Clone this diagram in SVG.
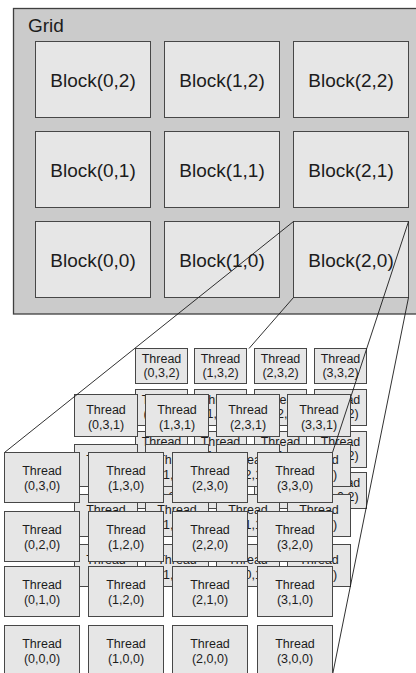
<svg xmlns="http://www.w3.org/2000/svg" width="416" height="673" viewBox="0 0 416 673">
<style>
.bg{fill:#ffffff}
.grid{fill:#cbcbcb;stroke:#3f3f3f;stroke-width:1.3}
.blk{fill:#e6e6e6;stroke:#474747;stroke-width:1}
.th{fill:#e6e6e6;stroke:#474747;stroke-width:1}
.t{font-family:"Liberation Sans",Arial,sans-serif;fill:#1c1c1c}
.bt{font-size:19px;text-anchor:middle}
.tt{font-size:12.5px;text-anchor:middle}
.ln{fill:none;stroke:#1a1a1a;stroke-width:0.9}
</style>
<rect class="bg" x="0" y="0" width="416" height="673"/>
<g id="grid">
<rect class="grid" x="13.5" y="8.5" width="420" height="305.5"/>
<text class="t" x="28" y="32" font-size="19">Grid</text>
</g>
<g id="block-0-2"><rect class="blk" x="35.5" y="41.5" width="115" height="76"/><text class="t bt" x="93" y="87">Block(0,2)</text></g>
<g id="block-1-2"><rect class="blk" x="164.5" y="41.5" width="115" height="76"/><text class="t bt" x="222" y="87">Block(1,2)</text></g>
<g id="block-2-2"><rect class="blk" x="293.5" y="41.5" width="115" height="76"/><text class="t bt" x="351" y="87">Block(2,2)</text></g>
<g id="block-0-1"><rect class="blk" x="35.5" y="131.5" width="115" height="76"/><text class="t bt" x="93" y="177">Block(0,1)</text></g>
<g id="block-1-1"><rect class="blk" x="164.5" y="131.5" width="115" height="76"/><text class="t bt" x="222" y="177">Block(1,1)</text></g>
<g id="block-2-1"><rect class="blk" x="293.5" y="131.5" width="115" height="76"/><text class="t bt" x="351" y="177">Block(2,1)</text></g>
<g id="block-0-0"><rect class="blk" x="35.5" y="221.5" width="115" height="76"/><text class="t bt" x="93" y="267">Block(0,0)</text></g>
<g id="block-1-0"><rect class="blk" x="164.5" y="221.5" width="115" height="76"/><text class="t bt" x="222" y="267">Block(1,0)</text></g>
<g id="block-2-0"><rect class="blk" x="293.5" y="221.5" width="115" height="76"/><text class="t bt" x="351" y="267">Block(2,0)</text></g>

<!-- back layer z=2 -->
<g id="thread-0-3-2"><rect class="th" x="135.5" y="348.5" width="52" height="35"/><text class="t tt" x="161.5" y="363">Thread</text><text class="t tt" x="161.5" y="377">(0,3,2)</text></g>
<g id="thread-1-3-2"><rect class="th" x="194.5" y="348.5" width="52" height="35"/><text class="t tt" x="220.5" y="363">Thread</text><text class="t tt" x="220.5" y="377">(1,3,2)</text></g>
<g id="thread-2-3-2"><rect class="th" x="254.5" y="348.5" width="52" height="35"/><text class="t tt" x="280.5" y="363">Thread</text><text class="t tt" x="280.5" y="377">(2,3,2)</text></g>
<g id="thread-3-3-2"><rect class="th" x="314.5" y="348.5" width="52" height="35"/><text class="t tt" x="340.5" y="363">Thread</text><text class="t tt" x="340.5" y="377">(3,3,2)</text></g>
<g id="thread-0-2-2"><rect class="th" x="135.5" y="389.5" width="52" height="36"/><text class="t tt" x="161.5" y="404">Thread</text><text class="t tt" x="161.5" y="418">(0,2,2)</text></g>
<g id="thread-1-2-2"><rect class="th" x="194.5" y="389.5" width="52" height="36"/><text class="t tt" x="220.5" y="404">Thread</text><text class="t tt" x="220.5" y="418">(1,2,2)</text></g>
<g id="thread-2-2-2"><rect class="th" x="254.5" y="389.5" width="52" height="36"/><text class="t tt" x="280.5" y="404">Thread</text><text class="t tt" x="280.5" y="418">(2,2,2)</text></g>
<g id="thread-3-2-2"><rect class="th" x="314.5" y="389.5" width="52" height="36"/><text class="t tt" x="340.5" y="404">Thread</text><text class="t tt" x="340.5" y="418">(3,2,2)</text></g>
<g id="thread-0-1-2"><rect class="th" x="135.5" y="431.5" width="52" height="36"/><text class="t tt" x="161.5" y="446">Thread</text><text class="t tt" x="161.5" y="460">(0,1,2)</text></g>
<g id="thread-1-1-2"><rect class="th" x="194.5" y="431.5" width="52" height="36"/><text class="t tt" x="220.5" y="446">Thread</text><text class="t tt" x="220.5" y="460">(1,1,2)</text></g>
<g id="thread-2-1-2"><rect class="th" x="254.5" y="431.5" width="52" height="36"/><text class="t tt" x="280.5" y="446">Thread</text><text class="t tt" x="280.5" y="460">(2,1,2)</text></g>
<g id="thread-3-1-2"><rect class="th" x="314.5" y="431.5" width="52" height="36"/><text class="t tt" x="340.5" y="446">Thread</text><text class="t tt" x="340.5" y="460">(3,1,2)</text></g>
<g id="thread-0-0-2"><rect class="th" x="135.5" y="472.5" width="52" height="36"/><text class="t tt" x="161.5" y="487">Thread</text><text class="t tt" x="161.5" y="501">(0,0,2)</text></g>
<g id="thread-1-0-2"><rect class="th" x="194.5" y="472.5" width="52" height="36"/><text class="t tt" x="220.5" y="487">Thread</text><text class="t tt" x="220.5" y="501">(1,0,2)</text></g>
<g id="thread-2-0-2"><rect class="th" x="254.5" y="472.5" width="52" height="36"/><text class="t tt" x="280.5" y="487">Thread</text><text class="t tt" x="280.5" y="501">(2,0,2)</text></g>
<g id="thread-3-0-2"><rect class="th" x="314.5" y="472.5" width="52" height="36"/><text class="t tt" x="340.5" y="487">Thread</text><text class="t tt" x="340.5" y="501">(3,0,2)</text></g>

<!-- middle layer z=1 -->
<g id="thread-0-3-1"><rect class="th" x="74.5" y="394.5" width="63" height="42"/><text class="t tt" x="106" y="414">Thread</text><text class="t tt" x="106" y="428.5">(0,3,1)</text></g>
<g id="thread-1-3-1"><rect class="th" x="145.5" y="394.5" width="63" height="42"/><text class="t tt" x="177" y="414">Thread</text><text class="t tt" x="177" y="428.5">(1,3,1)</text></g>
<g id="thread-2-3-1"><rect class="th" x="216.5" y="394.5" width="63" height="42"/><text class="t tt" x="248" y="414">Thread</text><text class="t tt" x="248" y="428.5">(2,3,1)</text></g>
<g id="thread-3-3-1"><rect class="th" x="287.5" y="394.5" width="63" height="42"/><text class="t tt" x="319" y="414">Thread</text><text class="t tt" x="319" y="428.5">(3,3,1)</text></g>
<g id="thread-0-2-1"><rect class="th" x="74.5" y="444.5" width="63" height="42"/><text class="t tt" x="106" y="464">Thread</text><text class="t tt" x="106" y="478.5">(0,2,1)</text></g>
<g id="thread-1-2-1"><rect class="th" x="145.5" y="444.5" width="63" height="42"/><text class="t tt" x="177" y="464">Thread</text><text class="t tt" x="177" y="478.5">(1,2,1)</text></g>
<g id="thread-2-2-1"><rect class="th" x="216.5" y="444.5" width="63" height="42"/><text class="t tt" x="248" y="464">Thread</text><text class="t tt" x="248" y="478.5">(2,2,1)</text></g>
<g id="thread-3-2-1"><rect class="th" x="287.5" y="444.5" width="63" height="42"/><text class="t tt" x="319" y="464">Thread</text><text class="t tt" x="319" y="478.5">(3,2,1)</text></g>
<g id="thread-0-1-1"><rect class="th" x="74.5" y="494.5" width="63" height="42"/><text class="t tt" x="106" y="514">Thread</text><text class="t tt" x="106" y="528.5">(0,1,1)</text></g>
<g id="thread-1-1-1"><rect class="th" x="145.5" y="494.5" width="63" height="42"/><text class="t tt" x="177" y="514">Thread</text><text class="t tt" x="177" y="528.5">(1,1,1)</text></g>
<g id="thread-2-1-1"><rect class="th" x="216.5" y="494.5" width="63" height="42"/><text class="t tt" x="248" y="514">Thread</text><text class="t tt" x="248" y="528.5">(2,1,1)</text></g>
<g id="thread-3-1-1"><rect class="th" x="287.5" y="494.5" width="63" height="42"/><text class="t tt" x="319" y="514">Thread</text><text class="t tt" x="319" y="528.5">(3,1,1)</text></g>
<g id="thread-0-0-1"><rect class="th" x="74.5" y="544.5" width="63" height="42"/><text class="t tt" x="106" y="564">Thread</text><text class="t tt" x="106" y="578.5">(0,0,1)</text></g>
<g id="thread-1-0-1"><rect class="th" x="145.5" y="544.5" width="63" height="42"/><text class="t tt" x="177" y="564">Thread</text><text class="t tt" x="177" y="578.5">(1,0,1)</text></g>
<g id="thread-2-0-1"><rect class="th" x="216.5" y="544.5" width="63" height="42"/><text class="t tt" x="248" y="564">Thread</text><text class="t tt" x="248" y="578.5">(2,0,1)</text></g>
<g id="thread-3-0-1"><rect class="th" x="287.5" y="544.5" width="63" height="42"/><text class="t tt" x="319" y="564">Thread</text><text class="t tt" x="319" y="578.5">(3,0,1)</text></g>

<g id="connectors">
<path class="ln" d="M293.5,221.5 L4.5,452.5"/>
<path class="ln" d="M293.5,297.5 L249,348.5"/>
<path class="ln" d="M408.5,221.5 L332.5,452.5"/>
<path class="ln" d="M408.5,297.5 L332.5,675"/>
</g>

<!-- front layer z=0 -->
<g id="thread-0-3-0"><rect class="th" x="4.5" y="452.5" width="75" height="50"/><text class="t tt" x="42" y="475">Thread</text><text class="t tt" x="42" y="490">(0,3,0)</text></g>
<g id="thread-1-3-0"><rect class="th" x="88.5" y="452.5" width="75" height="50"/><text class="t tt" x="126" y="475">Thread</text><text class="t tt" x="126" y="490">(1,3,0)</text></g>
<g id="thread-2-3-0"><rect class="th" x="172.5" y="452.5" width="75" height="50"/><text class="t tt" x="210" y="475">Thread</text><text class="t tt" x="210" y="490">(2,3,0)</text></g>
<g id="thread-3-3-0"><rect class="th" x="257.5" y="452.5" width="75" height="50"/><text class="t tt" x="295" y="475">Thread</text><text class="t tt" x="295" y="490">(3,3,0)</text></g>
<g id="thread-0-2-0"><rect class="th" x="4.5" y="511.5" width="75" height="50"/><text class="t tt" x="42" y="534">Thread</text><text class="t tt" x="42" y="549">(0,2,0)</text></g>
<g id="thread-1-2-0"><rect class="th" x="88.5" y="511.5" width="75" height="50"/><text class="t tt" x="126" y="534">Thread</text><text class="t tt" x="126" y="549">(1,2,0)</text></g>
<g id="thread-2-2-0"><rect class="th" x="172.5" y="511.5" width="75" height="50"/><text class="t tt" x="210" y="534">Thread</text><text class="t tt" x="210" y="549">(2,2,0)</text></g>
<g id="thread-3-2-0"><rect class="th" x="257.5" y="511.5" width="75" height="50"/><text class="t tt" x="295" y="534">Thread</text><text class="t tt" x="295" y="549">(3,2,0)</text></g>
<g id="thread-0-1-0"><rect class="th" x="4.5" y="566.5" width="75" height="50"/><text class="t tt" x="42" y="589">Thread</text><text class="t tt" x="42" y="604">(0,1,0)</text></g>
<g id="thread-1-1-0"><rect class="th" x="88.5" y="566.5" width="75" height="50"/><text class="t tt" x="126" y="589">Thread</text><text class="t tt" x="126" y="604">(1,2,0)</text></g>
<g id="thread-2-1-0"><rect class="th" x="172.5" y="566.5" width="75" height="50"/><text class="t tt" x="210" y="589">Thread</text><text class="t tt" x="210" y="604">(2,1,0)</text></g>
<g id="thread-3-1-0"><rect class="th" x="257.5" y="566.5" width="75" height="50"/><text class="t tt" x="295" y="589">Thread</text><text class="t tt" x="295" y="604">(3,1,0)</text></g>
<g id="thread-0-0-0"><rect class="th" x="4.5" y="625.5" width="75" height="50"/><text class="t tt" x="42" y="648">Thread</text><text class="t tt" x="42" y="663">(0,0,0)</text></g>
<g id="thread-1-0-0"><rect class="th" x="88.5" y="625.5" width="75" height="50"/><text class="t tt" x="126" y="648">Thread</text><text class="t tt" x="126" y="663">(1,0,0)</text></g>
<g id="thread-2-0-0"><rect class="th" x="172.5" y="625.5" width="75" height="50"/><text class="t tt" x="210" y="648">Thread</text><text class="t tt" x="210" y="663">(2,0,0)</text></g>
<g id="thread-3-0-0"><rect class="th" x="257.5" y="625.5" width="75" height="50"/><text class="t tt" x="295" y="648">Thread</text><text class="t tt" x="295" y="663">(3,0,0)</text></g>
</svg>
